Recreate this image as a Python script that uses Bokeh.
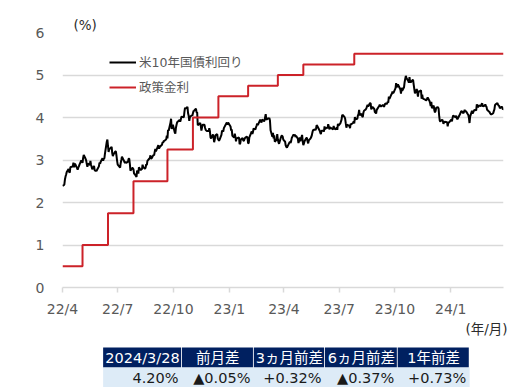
import pandas as pd
from bokeh.plotting import figure
from bokeh.models import Range1d, FixedTicker, Legend, LegendItem, Title, ColumnDataSource
from bokeh.layouts import column
from bokeh.core.properties import value
from bokeh.embed import file_html
from bokeh.resources import INLINE

# ---------------- data ----------------
days_2022 = ["04-01","04-04","04-05","04-06","04-07","04-08","04-11","04-12","04-13","04-14","04-18","04-19","04-20","04-21","04-22",
             "04-25","04-26","04-27","04-28","04-29","05-02","05-03","05-04","05-05","05-06","05-09","05-10","05-11","05-12","05-13",
             "05-16","05-17","05-18","05-19","05-20","05-23","05-24","05-25","05-26","05-27","05-31","06-01","06-02","06-03",
             "06-06","06-07","06-08","06-09","06-10","06-13","06-14","06-15","06-16","06-17","06-21","06-22","06-23","06-24",
             "06-27","06-28","06-29","06-30","07-01","07-05","07-06","07-07","07-08","07-11","07-12","07-13","07-14","07-15",
             "07-18","07-19","07-20","07-21","07-22","07-25","07-26","07-27","07-28","07-29","08-01","08-02","08-03","08-04","08-05",
             "08-08","08-09","08-10","08-11","08-12","08-15","08-16","08-17","08-18","08-19","08-22","08-23","08-24","08-25","08-26",
             "08-29","08-30","08-31","09-01","09-02","09-06","09-07","09-08","09-09","09-12","09-13","09-14","09-15","09-16",
             "09-19","09-20","09-21","09-22","09-23","09-26","09-27","09-28","09-29","09-30","10-03","10-04","10-05","10-06","10-07",
             "10-11","10-12","10-13","10-14","10-17","10-18","10-19","10-20","10-21","10-24","10-25","10-26","10-27","10-28",
             "10-31","11-01","11-02","11-03","11-04","11-07","11-08","11-09","11-10","11-14","11-15","11-16","11-17","11-18",
             "11-21","11-22","11-23","11-25","11-28","11-29","11-30","12-01","12-02","12-05","12-06","12-07","12-08","12-09",
             "12-12","12-13","12-14","12-15","12-16","12-19","12-20","12-21","12-22","12-23","12-27","12-28","12-29","12-30"]
yld_2022 = [2.39,2.42,2.54,2.61,2.66,2.72,2.79,2.72,2.70,2.83,2.85,2.94,2.83,2.91,2.90,
            2.81,2.77,2.82,2.85,2.89,2.99,2.97,2.93,3.05,3.12,3.03,2.99,2.91,2.84,2.92,
            2.88,2.98,2.89,2.84,2.78,2.86,2.76,2.75,2.75,2.74,2.85,2.94,2.91,2.96,
            3.04,2.98,3.03,3.04,3.15,3.43,3.48,3.33,3.19,3.25,3.31,3.16,3.09,3.13,
            3.20,3.20,3.10,2.98,2.89,2.82,2.93,3.00,3.08,2.99,2.96,2.93,2.96,2.93,
            2.96,3.03,3.03,2.91,2.75,2.81,2.81,2.78,2.68,2.67,2.60,2.75,2.73,2.68,2.83,
            2.76,2.79,2.78,2.89,2.84,2.79,2.82,2.90,2.88,2.98,3.03,3.05,3.11,3.03,3.04,
            3.12,3.11,3.19,3.26,3.20,3.35,3.27,3.29,3.32,3.36,3.42,3.41,3.45,3.45,
            3.49,3.57,3.51,3.71,3.69,3.88,3.97,3.73,3.79,3.83,3.65,3.62,3.76,3.83,3.89,
            3.94,3.90,3.95,4.02,4.01,4.00,4.13,4.23,4.21,4.25,4.10,4.04,3.92,4.01,
            4.05,4.04,4.10,4.15,4.16,4.21,4.12,4.12,3.82,3.87,3.80,3.69,3.77,3.83,
            3.83,3.76,3.71,3.68,3.68,3.75,3.68,3.53,3.51,3.60,3.53,3.42,3.48,3.58,
            3.61,3.50,3.48,3.45,3.48,3.59,3.69,3.68,3.67,3.75,3.86,3.88,3.83,3.88]

days_2023 = ["01-03","01-04","01-05","01-06","01-09","01-10","01-11","01-12","01-13","01-17","01-18","01-19","01-20",
             "01-23","01-24","01-25","01-26","01-27","01-30","01-31","02-01","02-02","02-03","02-06","02-07","02-08","02-09","02-10",
             "02-13","02-14","02-15","02-16","02-17","02-21","02-22","02-23","02-24","02-27","02-28","03-01","03-02","03-03",
             "03-06","03-07","03-08","03-09","03-10","03-13","03-14","03-15","03-16","03-17","03-20","03-21","03-22","03-23","03-24",
             "03-27","03-28","03-29","03-30","03-31","04-03","04-04","04-05","04-06","04-10","04-11","04-12","04-13","04-14",
             "04-17","04-18","04-19","04-20","04-21","04-24","04-25","04-26","04-27","04-28","05-01","05-02","05-03","05-04","05-05",
             "05-08","05-09","05-10","05-11","05-12","05-15","05-16","05-17","05-18","05-19","05-22","05-23","05-24","05-25","05-26",
             "05-30","05-31","06-01","06-02","06-05","06-06","06-07","06-08","06-09","06-12","06-13","06-14","06-15","06-16",
             "06-20","06-21","06-22","06-23","06-26","06-27","06-28","06-29","06-30","07-03","07-05","07-06","07-07",
             "07-10","07-11","07-12","07-13","07-14","07-17","07-18","07-19","07-20","07-21","07-24","07-25","07-26","07-27","07-28",
             "07-31","08-01","08-02","08-03","08-04","08-07","08-08","08-09","08-10","08-11","08-14","08-15","08-16","08-17","08-18",
             "08-21","08-22","08-23","08-24","08-25","08-28","08-29","08-30","08-31","09-01","09-05","09-06","09-07","09-08",
             "09-11","09-12","09-13","09-14","09-15","09-18","09-19","09-20","09-21","09-22","09-25","09-26","09-27","09-28","09-29",
             "10-02","10-03","10-04","10-05","10-06","10-10","10-11","10-12","10-13","10-16","10-17","10-18","10-19","10-20",
             "10-23","10-24","10-25","10-26","10-27","10-30","10-31","11-01","11-02","11-03","11-06","11-07","11-08","11-09","11-10",
             "11-13","11-14","11-15","11-16","11-17","11-20","11-21","11-22","11-24","11-27","11-28","11-29","11-30","12-01",
             "12-04","12-05","12-06","12-07","12-08","12-11","12-12","12-13","12-14","12-15","12-18","12-19","12-20","12-21","12-22",
             "12-26","12-27","12-28","12-29"]
yld_2023 = [3.79,3.69,3.72,3.57,3.53,3.62,3.55,3.44,3.51,3.53,3.37,3.39,3.48,
            3.52,3.46,3.45,3.49,3.52,3.55,3.52,3.39,3.40,3.53,3.64,3.67,3.61,3.66,3.74,
            3.72,3.77,3.81,3.86,3.82,3.95,3.92,3.88,3.95,3.92,3.92,4.01,4.08,3.95,
            3.98,3.97,3.99,3.93,3.70,3.55,3.64,3.51,3.58,3.43,3.48,3.61,3.48,3.42,3.38,
            3.53,3.57,3.57,3.55,3.48,3.43,3.34,3.31,3.29,3.41,3.43,3.40,3.45,3.52,
            3.60,3.58,3.60,3.54,3.57,3.50,3.40,3.45,3.53,3.44,3.59,3.44,3.35,3.39,3.44,
            3.52,3.52,3.44,3.39,3.46,3.51,3.54,3.58,3.65,3.70,3.72,3.70,3.74,3.82,3.80,
            3.69,3.64,3.61,3.69,3.69,3.67,3.79,3.72,3.75,3.76,3.84,3.79,3.72,3.77,
            3.73,3.72,3.80,3.74,3.72,3.77,3.71,3.85,3.81,3.86,3.95,4.05,4.06,
            4.01,3.97,3.86,3.76,3.83,3.81,3.80,3.75,3.85,3.84,3.87,3.91,3.86,4.01,3.96,
            3.97,4.05,4.08,4.18,4.05,4.09,4.03,4.01,4.11,4.16,4.19,4.22,4.26,4.30,4.26,
            4.34,4.33,4.19,4.24,4.25,4.20,4.12,4.12,4.09,4.18,4.27,4.30,4.27,4.26,
            4.29,4.29,4.25,4.29,4.33,4.32,4.37,4.35,4.49,4.44,4.54,4.56,4.61,4.57,4.59,
            4.69,4.81,4.73,4.72,4.78,4.66,4.56,4.70,4.63,4.71,4.83,4.91,4.98,4.93,
            4.86,4.82,4.95,4.84,4.83,4.88,4.88,4.77,4.67,4.57,4.67,4.58,4.49,4.63,4.61,
            4.64,4.44,4.54,4.45,4.44,4.42,4.40,4.41,4.47,4.39,4.34,4.27,4.37,4.22,
            4.28,4.17,4.12,4.15,4.23,4.24,4.21,4.03,3.92,3.91,3.95,3.92,3.85,3.89,3.90,
            3.89,3.79,3.88,3.88]

days_2024 = ["01-02","01-03","01-04","01-05","01-08","01-09","01-10","01-11","01-12","01-16","01-17","01-18","01-19",
             "01-22","01-23","01-24","01-25","01-26","01-29","01-30","01-31","02-01","02-02","02-05","02-06","02-07","02-08","02-09",
             "02-12","02-13","02-14","02-15","02-16","02-20","02-21","02-22","02-23","02-26","02-27","02-28","02-29","03-01",
             "03-04","03-05","03-06","03-07","03-08","03-11","03-12","03-13","03-14","03-15","03-18","03-19","03-20","03-21","03-22",
             "03-25","03-26","03-27","03-28"]
yld_2024 = [3.95,3.91,3.99,4.05,4.01,4.02,4.04,3.98,3.96,4.07,4.10,4.14,4.15,
            4.10,4.14,4.18,4.14,4.15,4.08,4.06,3.99,3.87,4.02,4.16,4.09,4.12,4.15,4.18,
            4.17,4.31,4.27,4.24,4.28,4.27,4.32,4.33,4.26,4.28,4.31,4.27,4.25,4.18,
            4.14,4.13,4.10,4.08,4.07,4.10,4.15,4.19,4.29,4.31,4.34,4.30,4.28,4.27,4.22,
            4.25,4.24,4.19,4.20]

rate_dates = ["2022-04-01","2022-05-04","2022-06-15","2022-07-27","2022-09-21","2022-11-02","2022-12-14",
              "2023-02-01","2023-03-22","2023-05-03","2023-07-26","2024-03-28"]
rate_values = [0.50, 1.00, 1.75, 2.50, 3.25, 4.00, 4.50, 4.75, 5.00, 5.25, 5.50, 5.50]

tick_dates = ["2022-04-01","2022-07-01","2022-10-01","2023-01-01","2023-04-01","2023-07-01","2023-10-01","2024-01-01"]
tick_labels = ["22/4","22/7","22/10","23/1","23/4","23/7","23/10","24/1"]
y_ticks = [0, 1, 2, 3, 4, 5, 6]

series_names = ["米10年国債利回り", "政策金利"]
y_unit = "(%)"
x_unit = "(年/月)"
table_headers = ["2024/3/28", "前月差", "3ヵ月前差", "6ヵ月前差", "1年前差"]
table_values = ["4.20%", "▲0.05%", "+0.32%", "▲0.37%", "+0.73%"]

# ---------------- styles ----------------
FONT = "DejaVu Sans, Noto Sans CJK JP"
GRAY = "#595959"
DARK = "#2b2b2b"
GRID = "#d9d9d9"
RED = "#CC2229"
NAVY = "#002060"
LIGHT = "#DDEBF7"
FIG_W = 521

dates = pd.to_datetime(["2022-" + d for d in days_2022] + ["2023-" + d for d in days_2023] + ["2024-" + d for d in days_2024])
yields = yld_2022 + yld_2023 + yld_2024
src = ColumnDataSource(dict(x=dates, y=yields))
rsrc = ColumnDataSource(dict(x=pd.to_datetime(rate_dates), y=rate_values))

def ms(d):
    return int(pd.Timestamp(d).timestamp() * 1000)

p = figure(width=FIG_W, height=341, x_axis_type="datetime",
           x_range=Range1d(pd.Timestamp("2022-04-01"), pd.Timestamp("2024-03-28")),
           y_range=Range1d(0, 6), output_backend="svg", toolbar_location=None,
           min_border_left=62, min_border_right=FIG_W - 62 - 441, min_border_top=32, min_border_bottom=54)
p.outline_line_color = None
p.background_fill_color = "white"
p.border_fill_color = "white"

xt = [ms(d) for d in tick_dates]
p.xaxis.ticker = FixedTicker(ticks=xt)
p.xaxis.major_label_overrides = {t: l for t, l in zip(xt, tick_labels)}
p.xaxis.axis_line_color = GRID
p.xaxis.axis_line_width = 1.5
p.xaxis.major_tick_line_color = GRID
p.xaxis.major_tick_line_width = 1.5
p.xaxis.major_tick_out = 5
p.xaxis.major_tick_in = 0
p.xaxis.minor_tick_line_color = None
p.xaxis.major_label_standoff = 8

p.yaxis.ticker = FixedTicker(ticks=y_ticks)
p.yaxis.axis_line_color = None
p.yaxis.major_tick_line_color = None
p.yaxis.minor_tick_line_color = None
p.yaxis.major_label_standoff = 12

for ax in (p.xaxis, p.yaxis):
    ax.major_label_text_font = FONT
    ax.major_label_text_font_size = "14px"
    ax.major_label_text_color = GRAY

p.xgrid.visible = False
p.ygrid.grid_line_color = GRID
p.ygrid.grid_line_width = 1.5

r_black = p.line("x", "y", source=src, line_color="black", line_width=2)
r_red = p.step("x", "y", source=rsrc, mode="after", line_color=RED, line_width=2)

legend = Legend(items=[LegendItem(label=series_names[0], renderers=[r_black]),
                       LegendItem(label=series_names[1], renderers=[r_red])],
                location=(47, 191), orientation="vertical",
                padding=0, margin=0, spacing=6, glyph_width=27, glyph_height=16,
                label_height=16, label_standoff=3,
                label_text_font=FONT, label_text_font_size="12.5px", label_text_color=GRAY,
                border_line_color=None, background_fill_alpha=0)
p.add_layout(legend)

p.add_layout(Title(text=y_unit, align="left", offset=11, standoff=0, vertical_align="bottom",
                   text_font=FONT, text_font_size="13.5px", text_font_style="normal",
                   text_color=DARK), "above")
p.add_layout(Title(text=x_unit, align="right", offset=-4, standoff=2, vertical_align="top",
                   text_font=FONT, text_font_size="13.5px", text_font_style="normal",
                   text_color=DARK), "below")

# ---------------- table ----------------
col_widths = [93, 85, 84, 86, 85]
table_left = 48
lefts = []
acc = table_left
for w in col_widths:
    lefts.append(acc)
    acc += w
rights = [l + w for l, w in zip(lefts, col_widths)]

T_H = 46
t = figure(width=FIG_W, height=T_H, x_range=Range1d(0, FIG_W), y_range=Range1d(0, T_H),
           output_backend="svg", toolbar_location=None, min_border=0,
           x_axis_location=None, y_axis_location=None)
t.outline_line_color = None
t.grid.visible = False
t.background_fill_color = "white"
t.border_fill_color = "white"

hsrc = ColumnDataSource(dict(left=lefts, right=[r - 1 for r in rights], text=table_headers,
                             cx=[(l + r) / 2 for l, r in zip(lefts, rights)]))
t.quad(left="left", right="right", bottom=20, top=40, source=hsrc, fill_color=NAVY, line_color=None)
t.quad(left=[lefts[0]], right=[rights[-1]], bottom=[0], top=[20], fill_color=LIGHT, line_color=None)
t.text(x="cx", y=30, text="text", source=hsrc, text_font=value(FONT), text_font_size="14.5px",
       text_color="white", text_align="center", text_baseline="middle")
vsrc = ColumnDataSource(dict(x=[r - 4 for r in rights], text=table_values))
t.text(x="x", y=10, text="text", source=vsrc, text_font=value(FONT), text_font_size="14.5px",
       text_color="#1a1a1a", text_align="right", text_baseline="middle")

layout = column(p, t, spacing=0)
open("out.html", "w").write(file_html(layout, INLINE))
